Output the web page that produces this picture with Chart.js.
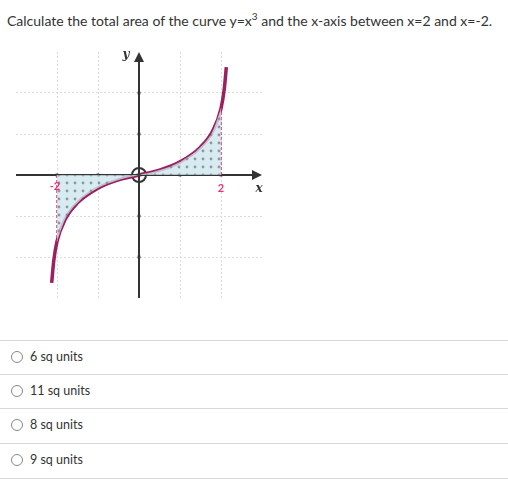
<!DOCTYPE html>
<html><head><meta charset="utf-8">
<script src="https://cdn.jsdelivr.net/npm/chart.js@4"></script>
<style>
body{margin:0;width:508px;height:480px;font-family:Lato,sans-serif;color:#333;background:#fff;position:relative;overflow:hidden}
#title{position:absolute;left:7px;top:10px;font-size:14px;white-space:nowrap}
#title sup{font-size:10px}
#wrap{position:absolute;left:7px;top:43px;width:264px;height:264px}
.opt{position:absolute;left:0;width:508px;height:34px;border-top:1px solid #d8d8d8;font-size:12.5px}
.opt span.r{position:absolute;left:11px;top:10px;width:10px;height:10px;border:1px solid #888;border-radius:50%}
.opt span.t{position:absolute;left:30px;top:8px}
</style></head><body>
<div id="title">Calculate the total area of the curve y=x<sup>3</sup> and the x-axis between x=2 and x=-2.</div>
<div id="wrap"><canvas id="c"></canvas></div>
<div class="opt" style="top:340px"><span class="r"></span><span class="t">6 sq units</span></div>
<div class="opt" style="top:374px"><span class="r"></span><span class="t">11 sq units</span></div>
<div class="opt" style="top:408px"><span class="r"></span><span class="t">8 sq units</span></div>
<div class="opt" style="top:443px;border-bottom:1px solid #d8d8d8"><span class="r"></span><span class="t">9 sq units</span></div>
<script>
// curve, in grid units
const curveX = [-2.13, -2.08, -2, -1.8, -1.5, -1, -0.5, 0, 0.5, 1, 1.5, 1.8, 2, 2.08, 2.13];
const curveY = [-2.63, -2.1, -1.62, -1.08, -0.68, -0.32, -0.12, 0, 0.12, 0.32, 0.68, 1.08, 1.62, 2.1, 2.63];
const boundsX = [-2, 2];
const boundsY = [-1.62, 1.62];
const tickVals = [-2, -1, 1, 2];
const tickLabels = ['-2', '2'];

const curve = curveX.map((x, i) => ({x: x, y: curveY[i]}));
const shaded = curve.filter(p => p.x >= boundsX[0] && p.x <= boundsX[1]);

// dotted pattern for the shaded area
const pc = document.createElement('canvas');
pc.width = 8; pc.height = 8;
const px = pc.getContext('2d');
px.fillStyle = 'rgba(205,230,238,0.8)';
px.fillRect(0, 0, 8, 8);
px.fillStyle = '#8a9aa0';
px.beginPath(); px.arc(4, 4, 1.4, 0, Math.PI * 2); px.fill();
const pattern = px.createPattern(pc, 'repeat');

const datasets = [
  {data: shaded, showLine: true, fill: 'origin', backgroundColor: pattern, borderWidth: 0, pointRadius: 0, cubicInterpolationMode: 'monotone'},
  {data: [{x: boundsX[0], y: 0}, {x: boundsX[0], y: boundsY[0]}], showLine: true, borderColor: '#e8357a', borderWidth: 1.5, borderDash: [3, 2], pointRadius: 0},
  {data: [{x: boundsX[1], y: 0}, {x: boundsX[1], y: boundsY[1]}], showLine: true, borderColor: '#e8357a', borderWidth: 1.5, borderDash: [3, 2], pointRadius: 0},
  {data: [{x: -3, y: 0}, {x: 2.95, y: 0}], showLine: true, borderColor: '#333', borderWidth: 2, pointRadius: 0},
  {data: [{x: 0, y: -3}, {x: 0, y: 2.95}], showLine: true, borderColor: '#333', borderWidth: 2, pointRadius: 0},
  {data: tickVals.map(v => ({x: v, y: 0})).concat(tickVals.map(v => ({x: 0, y: v}))), pointStyle: 'rect', pointRadius: 2, backgroundColor: '#333', borderWidth: 0},
  {data: curve, showLine: true, borderColor: '#9c1f5e', borderWidth: 3.5, pointRadius: 0, cubicInterpolationMode: 'monotone'},
  {data: [{x: 0, y: 0}], pointRadius: 7, borderColor: '#333', borderWidth: 2, backgroundColor: 'rgba(0,0,0,0)'}
];

const decor = {
  id: 'decor',
  afterDatasetsDraw(chart) {
    const ctx = chart.ctx, xs = chart.scales.x, ys = chart.scales.y;
    const ox = xs.getPixelForValue(0), oy = ys.getPixelForValue(0);
    ctx.save();
    ctx.fillStyle = '#333';
    const xe = xs.getPixelForValue(3), yt = ys.getPixelForValue(3);
    ctx.beginPath(); ctx.moveTo(xe, oy); ctx.lineTo(xe - 10, oy - 5); ctx.lineTo(xe - 10, oy + 5); ctx.fill();
    ctx.beginPath(); ctx.moveTo(ox, yt); ctx.lineTo(ox - 5, yt + 10); ctx.lineTo(ox + 5, yt + 10); ctx.fill();
    ctx.font = 'italic bold 12px "DejaVu Serif", serif';
    ctx.textAlign = 'center'; ctx.textBaseline = 'middle';
    ctx.fillText('x', xe - 3, oy + 14);
    ctx.fillText('y', ox - 13, yt + 3);
    ctx.fillStyle = '#e8357a';
    ctx.font = 'bold 11px Lato, sans-serif';
    ctx.fillText(tickLabels[0], xs.getPixelForValue(boundsX[0]) - 2, oy + 11);
    ctx.fillText(tickLabels[1], xs.getPixelForValue(boundsX[1]), oy + 13);
    ctx.restore();
  }
};

const gridOpts = {
  color: c => (c.tick.value === 0 || Math.abs(c.tick.value) === 3) ? 'rgba(0,0,0,0)' : '#dcdcdc',
  drawTicks: false, lineWidth: 1
};

new Chart(document.getElementById('c'), {
  type: 'scatter',
  data: {datasets: datasets},
  options: {
    responsive: true, maintainAspectRatio: false, animation: false,
    layout: {padding: 0},
    plugins: {legend: {display: false}, tooltip: {enabled: false}},
    scales: {
      x: {type: 'linear', min: -3, max: 3, ticks: {display: false, stepSize: 1}, border: {display: false, dash: [2, 2]}, grid: Object.assign({}, gridOpts)},
      y: {type: 'linear', min: -3, max: 3, ticks: {display: false, stepSize: 1}, border: {display: false, dash: [2, 2]}, grid: Object.assign({}, gridOpts)}
    }
  },
  plugins: [decor]
});
</script>
</body></html>
